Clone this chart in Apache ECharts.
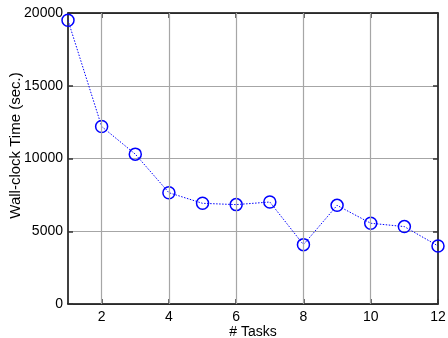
<!DOCTYPE html>
<html><head><meta charset="utf-8">
<script src="https://cdn.jsdelivr.net/npm/echarts@6/dist/echarts.min.js"></script>
<style>html,body{margin:0;padding:0;background:#fff}#c{width:448px;height:338px}</style>
</head><body><div id="c"></div>
<script>
const tasks = [1,2,3,4,5,6,7,8,9,10,11,12];
const wallTime = [19500,12200,10300,7650,6920,6830,7010,4080,6780,5550,5320,3990];
const xTicks = [2,4,6,8,10,12];
const yTicks = [0,5000,10000,15000,20000];

const chart = echarts.init(document.getElementById('c'), null, {renderer:'canvas'});
const font = 'Liberation Sans, Arial, sans-serif';
const axisLine = {show:true, onZero:false, lineStyle:{color:'#000', width:1.5}};
const grid = {show:true, lineStyle:{color:'#a6a6a6', width:1.2}};
chart.setOption({
  animation:false,
  grid:{left:68, right:10, top:13, bottom:34, outerBoundsMode:'none', containLabel:false},
  xAxis:[{
    type:'value', min:1, max:12, interval:1,
    name:'# Tasks', nameLocation:'middle', nameGap:21, nameMoveOverlap:false,
    nameTextStyle:{color:'#000', fontSize:14, fontFamily:font},
    axisLine:axisLine,
    axisTick:{show:true, inside:true, length:5, lineStyle:{color:'#333', width:1.5},
      customValues: xTicks},
    axisLabel:{color:'#000', fontSize:14, fontFamily:font, margin:6, customValues: xTicks},
    splitLine:{show:false}
  },{
    type:'value', min:1, max:12, position:'top',
    axisLine:axisLine,
    axisTick:{show:true, inside:true, length:5, lineStyle:{color:'#333', width:1.5}, customValues: xTicks},
    axisLabel:{show:false},
    splitLine:{show:false}
  }],
  yAxis:[{
    type:'value', min:0, max:20000, interval:5000,
    name:'Wall-clock Time (sec.)', nameLocation:'middle', nameGap:45, nameMoveOverlap:false,
    nameTextStyle:{color:'#000', fontSize:15, fontFamily:font, padding:[0,0,0,26]},
    axisLine:axisLine,
    axisTick:{show:true, inside:true, length:5, lineStyle:{color:'#333', width:1.5}},
    axisLabel:{color:'#000', fontSize:14, fontFamily:font, margin:5, formatter: v => String(v)},
    splitLine:grid
  },{
    type:'value', min:0, max:20000, interval:5000, position:'right',
    axisLine:axisLine,
    axisTick:{show:true, inside:true, length:5, lineStyle:{color:'#333', width:1.5}},
    axisLabel:{show:false},
    splitLine:{show:false}
  }],
  series:[
    {type:'line', xAxisIndex:0, yAxisIndex:0, silent:true,
     data: xTicks.map(v=>[v,0]), symbol:'none', lineStyle:{opacity:0},
     markLine:{silent:true, symbol:'none', label:{show:false},
       lineStyle:{color:'#a6a6a6', width:1.2, type:'solid'},
       data: xTicks.slice(0,-1).map(v=>({xAxis:v}))}},
    {type:'line', data: tasks.map((t,i)=>[t, wallTime[i]]),
     symbol:'circle', symbolSize:12,
     itemStyle:{color:'rgba(0,0,0,0)', borderColor:'#0000ff', borderWidth:1.5},
     lineStyle:{color:'#0000ff', width:1, type:[1.5,1.5]}}
  ]
});
</script></body></html>
